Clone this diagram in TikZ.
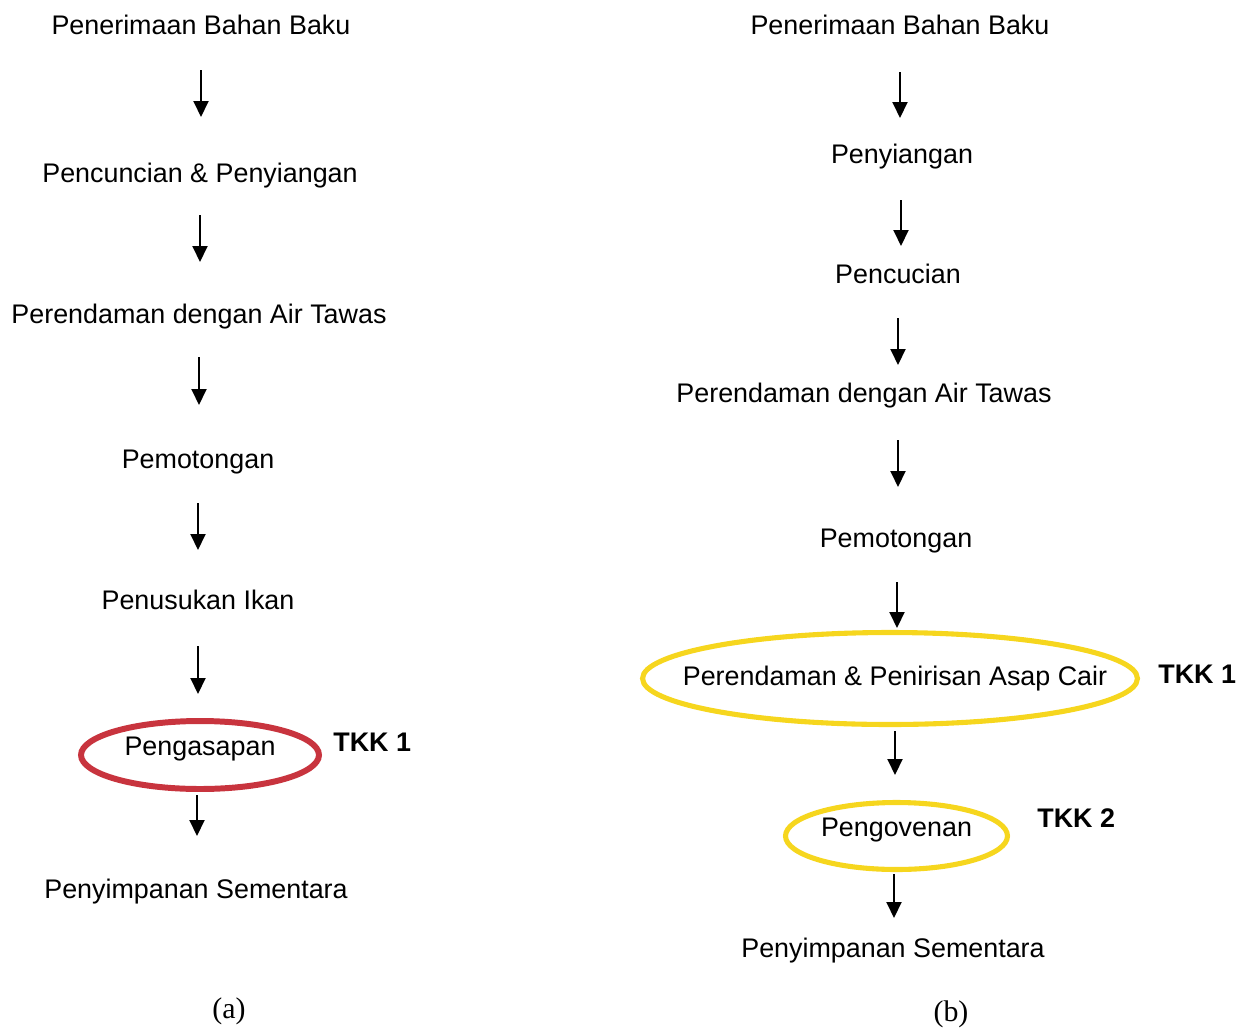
\documentclass[tikz,border=0pt]{standalone}
\usepackage{fontspec}
\setmainfont{Liberation Sans}
\newfontfamily\capfont{Liberation Serif}
\usetikzlibrary{arrows.meta, shapes.geometric, calc}

\definecolor{ccpred}{RGB}{200,52,62}
\definecolor{ccpyellow}{RGB}{246,214,30}

\begin{document}
\begin{tikzpicture}[x=0.02cm, y=-0.02cm,
  proc/.style={anchor=base, inner sep=0pt, font=\fontsize{15.3pt}{18pt}\selectfont},
  ccp/.style={anchor=base west, inner sep=0pt, font=\fontsize{15.3pt}{18pt}\selectfont\bfseries},
  ring/.style={ellipse, draw, inner sep=0pt, outer sep=0pt, font=\fontsize{15.3pt}{18pt}\selectfont},
  flow/.style={-{Triangle[width=0.3cm, length=0.32cm]}, line width=1.1pt},
  caption/.style={anchor=base, inner sep=0pt, font=\capfont\fontsize{17pt}{20pt}\selectfont}]

\useasboundingbox (0,0) rectangle (1244,1028);

% (a) Left process chart
\node[proc] (L1) at (201,34)  {Penerimaan Bahan Baku};
\node[proc] (L2) at (200,182) {Pencuncian \& Penyiangan};
\node[proc] (L3) at (199,323) {Perendaman dengan Air Tawas};
\node[proc] (L4) at (198,468) {Pemotongan};
\node[proc] (L5) at (198,609) {Penusukan Ikan};
\node[ring, draw=ccpred, line width=3.4pt, minimum width=4.76cm, minimum height=1.36cm,
      text height=11pt, text depth=10pt] (L6) at (200,755) {\makebox[0pt]{Pengasapan}};
\node[proc] (L7) at (196,898) {Penyimpanan Sementara};
\node[ccp] (tkkA) at (333,751) {TKK 1};
\node[caption] (capA) at (229,1018) {(a)};

\draw[flow] ($(L1.base)+(0,36)$)   -- ($(L2.base)+(1,-65)$);
\draw[flow] ($(L2.base)+(0,33)$)   -- ($(L3.base)+(1,-61)$);
\draw[flow] ($(L3.base)+(0,34)$)   -- ($(L4.base)+(1,-63)$);
\draw[flow] ($(L4.base)+(0,35)$)   -- ($(L5.base)+(0,-59)$);
\draw[flow] ($(L5.base)+(0,37)$)   -- ($(L6.north)+(-2,-27)$);
\draw[flow] ($(L6.south)+(-3,6)$)  -- ($(L7.base)+(1,-62)$);

% (b) Right process chart
\node[proc] (R1) at (900,34)  {Penerimaan Bahan Baku};
\node[proc] (R2) at (902,163) {Penyiangan};
\node[proc] (R3) at (898,283) {Pencucian};
\node[proc] (R4) at (864,402) {Perendaman dengan Air Tawas};
\node[proc] (R5) at (896,547) {Pemotongan};
\node[ring, draw=ccpyellow, line width=2.9pt, minimum width=9.9cm, minimum height=1.84cm]
      (R6) at (890,678.5) {\makebox[0pt]{\hspace{0.2cm}Perendaman \& Penirisan Asap Cair}};
\node[ring, draw=ccpyellow, line width=2.9pt, minimum width=4.44cm, minimum height=1.34cm,
      text height=11pt, text depth=10pt] (R7) at (896.5,836) {\makebox[0pt]{Pengovenan}};
\node[proc] (R8) at (893,957) {Penyimpanan Sementara};
\node[ccp] (tkkB) at (1158,683) {TKK 1};
\node[ccp] (tkkC) at (1037,827) {TKK 2};
\node[caption] (capB) at (951,1021) {(b)};

\draw[flow] ($(R1.base)+(0,38)$)      -- ($(R2.base)+(-2,-45)$);
\draw[flow] ($(R2.base)+(-1,37)$)     -- ($(R3.base)+(3,-37)$);
\draw[flow] ($(R3.base)+(0,35)$)      -- ($(R4.base)+(34,-37)$);
\draw[flow] ($(R4.base)+(34,38)$)     -- ($(R5.base)+(2,-60)$);
\draw[flow] ($(R5.base)+(1,35)$)      -- ($(R6.north)+(7,-4.5)$);
\draw[flow] ($(R6.south)+(5,6.5)$)    -- ($(R7.north)+(-1.5,-27.5)$);
\draw[flow] ($(R7.south)+(-2.5,4.5)$) -- ($(R8.base)+(1,-39)$);

\end{tikzpicture}
\end{document}
